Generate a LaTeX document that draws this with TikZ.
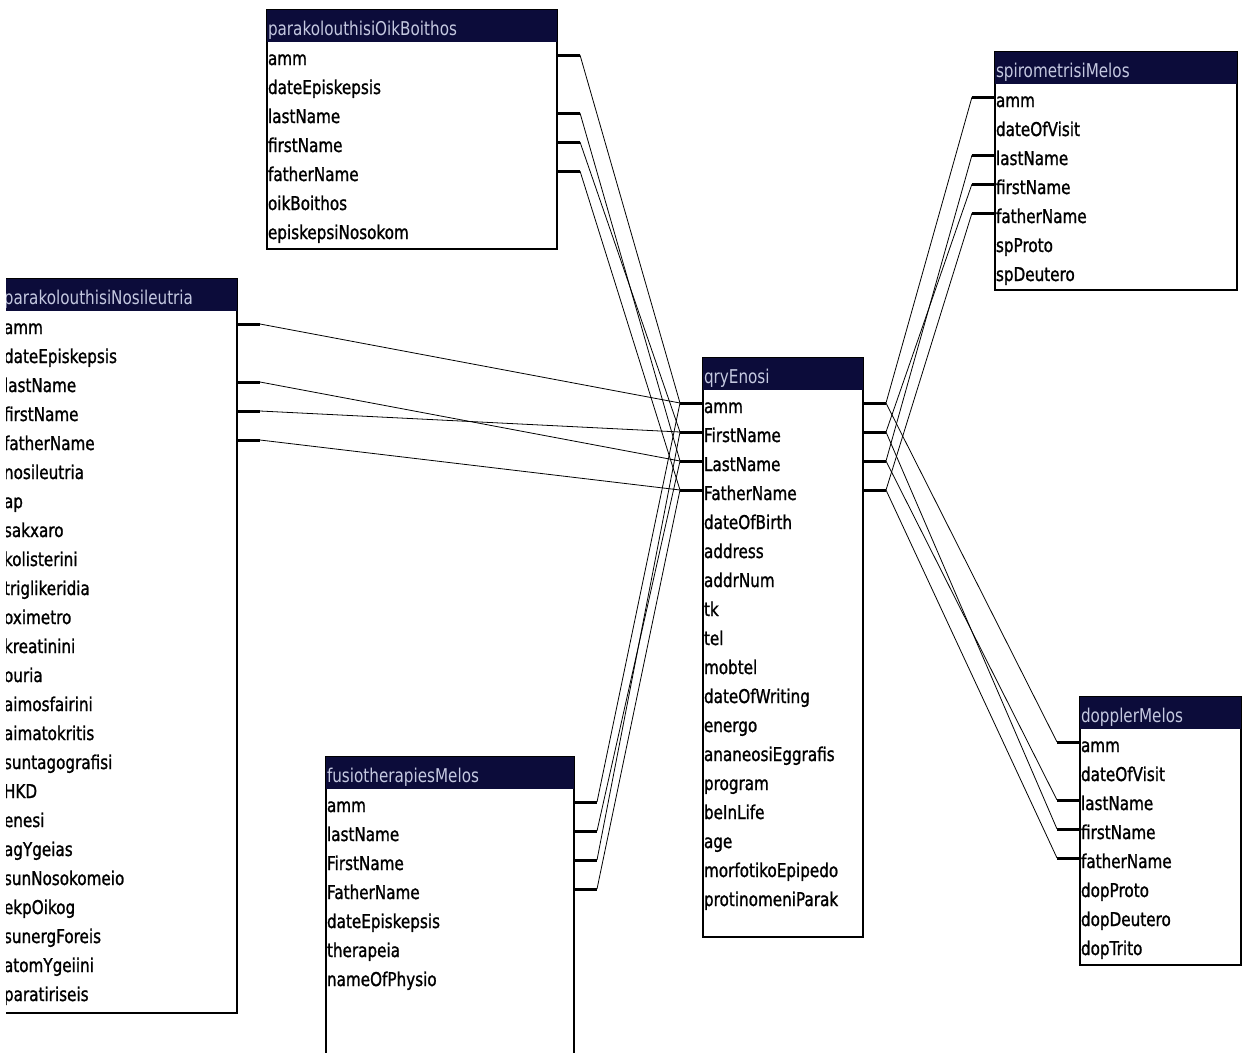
\documentclass[tikz,border=0pt]{standalone}
\usepackage{fontspec}
\setmainfont{DejaVu Sans}[FakeStretch=0.8]
\newfontfamily\fieldfont{DejaVu Sans}[FakeStretch=0.8,FakeBold=1.2]
\definecolor{navy}{RGB}{12,12,58}
\definecolor{headtext}{RGB}{196,200,224}

\begin{document}
\begin{tikzpicture}[x=1pt,y=-1pt,font=\fontsize{19}{22}\selectfont,
  tbl/.style={draw=black,fill=white,line width=1.2pt},
  head/.style={fill=navy,text=headtext,anchor=north west,inner xsep=1pt,inner ysep=0pt,outer sep=0pt,minimum height=32pt,text height=22pt,text depth=4pt,align=left},
  field/.style={anchor=west,font=\fieldfont\fontsize{19}{22}\selectfont,inner xsep=1pt,inner ysep=0pt,outer sep=0pt,minimum height=29pt,text height=24pt,text depth=4pt,align=left},
  stub/.style={line width=3pt},
  link/.style={line width=0.8pt}]
\fill[white] (0,0) rectangle (1242,1052);
\useasboundingbox (0,0) rectangle (1242,1052);
\clip (6,0) rectangle (1242,1052);

% parakolouthisiOikBoithos
\draw[tbl] (267,10) rectangle (557,249);
\node[head,text width=288pt] (oik) at (267,10) {parakolouthisiOikBoithos};
\foreach \f [count=\i] in {amm,dateEpiskepsis,lastName,firstName,fatherName,oikBoithos,episkepsiNosokom}
  \node[field,text width=288pt] (oik-\i) at (267,{26+29*\i}) {\f};

% parakolouthisiNosileutria
\draw[tbl] (3,279) rectangle (237,1013);
\node[head,text width=232pt] (nos) at (3,279) {parakolouthisiNosileutria};
\foreach \f [count=\i] in {amm,dateEpiskepsis,lastName,firstName,fatherName,nosileutria,ap,sakxaro,kolisterini,triglikeridia,oximetro,kreatinini,ouria,aimosfairini,aimatokritis,suntagografisi,HKD,enesi,agYgeias,sunNosokomeio,ekpOikog,sunergForeis,atomYgeiini,paratiriseis}
  \node[field,text width=232pt] (nos-\i) at (3,{295+29*\i}) {\f};

% qryEnosi
\draw[tbl] (703,358) rectangle (863,937);
\node[head,text width=158pt] (qry) at (703,358) {qryEnosi};
\foreach \f [count=\i] in {amm,FirstName,LastName,FatherName,dateOfBirth,address,addrNum,tk,tel,mobtel,dateOfWriting,energo,ananeosiEggrafis,program,beInLife,age,morfotikoEpipedo,protinomeniParak}
  \node[field,text width=158pt] (qry-\i) at (703,{374+29*\i}) {\f};

% spirometrisiMelos
\draw[tbl] (995,52) rectangle (1237,290);
\node[head,text width=240pt] (spi) at (995,52) {spirometrisiMelos};
\foreach \f [count=\i] in {amm,dateOfVisit,lastName,firstName,fatherName,spProto,spDeutero}
  \node[field,text width=240pt] (spi-\i) at (995,{68+29*\i}) {\f};

% dopplerMelos
\draw[tbl] (1080,697) rectangle (1241,965);
\node[head,text width=159pt] (dop) at (1080,697) {dopplerMelos};
\foreach \f [count=\i] in {amm,dateOfVisit,lastName,firstName,fatherName,dopProto,dopDeutero,dopTrito}
  \node[field,text width=159pt] (dop-\i) at (1080,{713+29*\i}) {\f};

% fusiotherapiesMelos
\draw[tbl] (326,757) rectangle (574,1070);
\node[head,text width=246pt] (fus) at (326,757) {fusiotherapiesMelos};
\foreach \f [count=\i] in {amm,lastName,FirstName,FatherName,dateEpiskepsis,therapeia,nameOfPhysio}
  \node[field,text width=246pt] (fus-\i) at (326,{773+29*\i}) {\f};

% Joins
\foreach \a/\b in {oik-1/qry-1,oik-3/qry-3,oik-4/qry-2,oik-5/qry-4,
  nos-1/qry-1,nos-3/qry-3,nos-4/qry-2,nos-5/qry-4,
  fus-1/qry-1,fus-2/qry-3,fus-3/qry-2,fus-4/qry-4,
  qry-1/spi-1,qry-2/spi-4,qry-3/spi-3,qry-4/spi-5,
  qry-1/dop-1,qry-2/dop-4,qry-3/dop-3,qry-4/dop-5}{
  \draw[stub] (\a.east) -- ++(23,0) coordinate (s);
  \draw[stub] (\b.west) -- ++(-23,0) coordinate (t);
  \draw[link] (s) -- (t);
}

\end{tikzpicture}
\end{document}
